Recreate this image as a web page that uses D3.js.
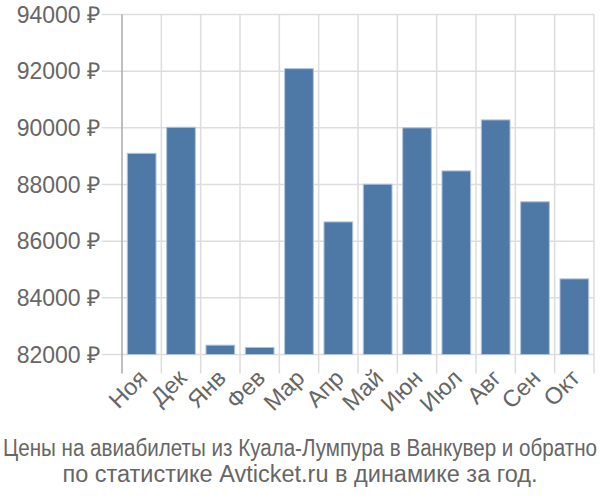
<!DOCTYPE html>
<html><head><meta charset="utf-8">
<script src="https://cdn.jsdelivr.net/npm/d3@7"></script>
<style>body{margin:0;background:#fff;}svg{display:block;}</style>
</head><body>
<svg id="c" width="600" height="500"></svg>
<script>
const categories = ["Ноя","Дек","Янв","Фев","Мар","Апр","Май","Июн","Июл","Авг","Сен","Окт"];
const prices = [89100, 90020, 82330, 82250, 92090, 86680, 88010, 90000, 88480, 90280, 87390, 84670];
const yTicks = [82000, 84000, 86000, 88000, 90000, 92000, 94000];
const titleLines = ["Цены на авиабилеты из Куала-Лумпура в Ванкувер и обратно", "по статистике Avticket.ru в динамике за год."];

(function () {
const svg = d3.select("#c");
const pLeft = 122, pRight = 594, pTop = 14.5, pBottom = 354.5;
const font = "'Liberation Sans', Arial, sans-serif";

const x = d3.scaleBand().domain(categories).range([pLeft, pRight]).paddingInner(0.27).paddingOuter(0.135);
const xb = d3.scaleBand().domain(categories).range([pLeft, pRight]);
const y = d3.scaleLinear().domain([82000, 94000]).range([pBottom, pTop]);

// horizontal grid
svg.append("g").selectAll("line").data(yTicks).join("line")
  .attr("x1", pLeft - 20).attr("x2", pRight)
  .attr("y1", d => y(d)).attr("y2", d => y(d))
  .attr("stroke", "#dddddd").attr("stroke-width", 1.5);

// vertical grid
const bounds = categories.map(c => xb(c)).concat([pRight]);
svg.append("g").selectAll("line").data(bounds.slice(1)).join("line")
  .attr("x1", d => d).attr("x2", d => d)
  .attr("y1", pTop).attr("y2", pBottom + 19)
  .attr("stroke", "#dddddd").attr("stroke-width", 1.5);

// y axis line
svg.append("line").attr("x1", pLeft).attr("x2", pLeft).attr("y1", pTop).attr("y2", pBottom + 19)
  .attr("stroke", "#aaaaaa").attr("stroke-width", 1.5);

// bars
svg.append("g").selectAll("rect").data(prices).join("rect")
  .attr("x", (d, i) => x(categories[i]))
  .attr("width", x.bandwidth())
  .attr("y", d => y(d))
  .attr("height", d => y(82000) - y(d))
  .attr("fill", "#4e79a7")
  .attr("stroke", "#b0c4dc").attr("stroke-width", 1);

// y labels
svg.append("g").selectAll("text").data(yTicks).join("text")
  .attr("x", 100).attr("y", d => y(d))
  .attr("dy", "0.36em")
  .attr("text-anchor", "end")
  .attr("font-family", font).attr("font-size", 23).attr("fill", "#666666")
  .text(d => d + " ₽");

// x labels
svg.append("g").selectAll("text").data(categories).join("text")
  .attr("transform", d => `translate(${xb(d) + xb.bandwidth() / 2 + 7},${pBottom + 25}) rotate(-45)`)
  .attr("text-anchor", "end")
  .attr("font-family", font).attr("font-size", 23.5).attr("fill", "#666666")
  .text(d => d);

// title
svg.append("text").attr("x", 300).attr("y", 456).attr("text-anchor", "middle")
  .attr("font-family", font).attr("font-size", 23.5).attr("fill", "#666666")
  .attr("textLength", 594).attr("lengthAdjust", "spacingAndGlyphs")
  .text(titleLines[0]);
svg.append("text").attr("x", 300).attr("y", 482).attr("text-anchor", "middle")
  .attr("font-family", font).attr("font-size", 23.5).attr("fill", "#666666")
  .text(titleLines[1]);
})();
</script>
</body></html>
